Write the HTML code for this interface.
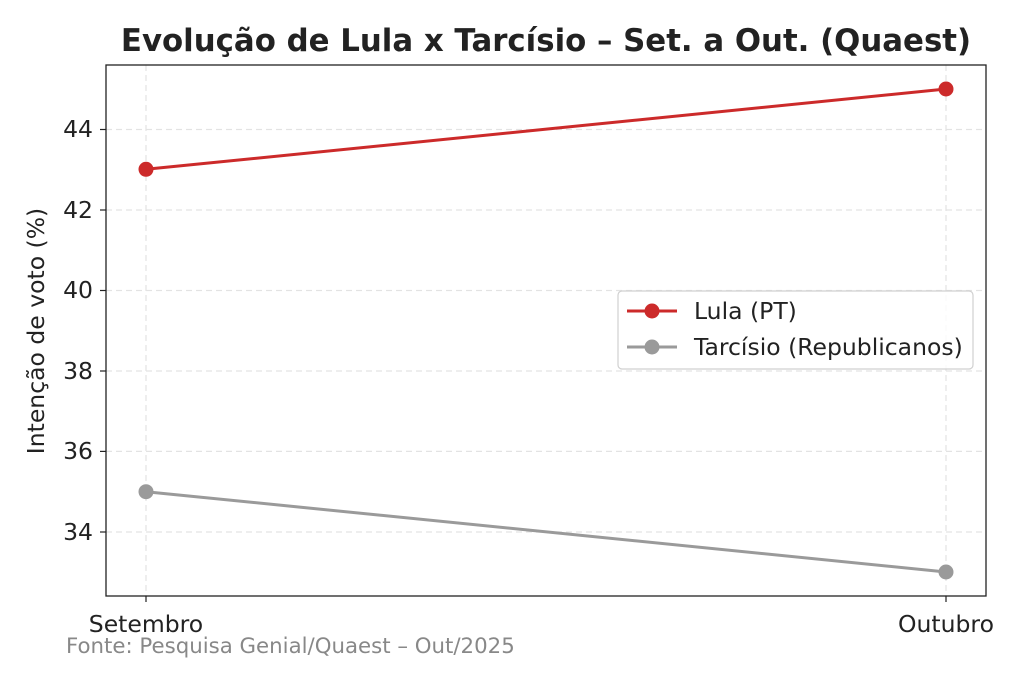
<!DOCTYPE html>
<html><head><meta charset="utf-8"><style>
html,body{margin:0;padding:0;background:#fff;}
svg{display:block;font-family:"DejaVu Sans","Liberation Sans",sans-serif;}
</style></head><body>
<svg width="1024" height="683" viewBox="0 0 1024 683" xmlns="http://www.w3.org/2000/svg">
<rect width="1024" height="683" fill="#fff"/>
<text x="546" y="51" text-anchor="middle" font-size="30.8" font-weight="bold" fill="#222">Evolução de Lula x Tarcísio – Set. a Out. (Quaest)</text>
<g stroke="#e3e3e3" stroke-width="1.2" stroke-dasharray="6,4">
<line x1="146" y1="65" x2="146" y2="596"/>
<line x1="946" y1="65" x2="946" y2="596"/>
<line x1="106" y1="532" x2="986" y2="532"/>
<line x1="106" y1="451.4" x2="986" y2="451.4"/>
<line x1="106" y1="371" x2="986" y2="371"/>
<line x1="106" y1="290.5" x2="986" y2="290.5"/>
<line x1="106" y1="210" x2="986" y2="210"/>
<line x1="106" y1="129.5" x2="986" y2="129.5"/>
</g>
<rect x="106" y="65" width="880" height="531" fill="none" stroke="#222" stroke-width="1.3"/>
<g stroke="#222" stroke-width="1.2">
<line x1="100" y1="532" x2="106" y2="532"/><line x1="100" y1="451.4" x2="106" y2="451.4"/>
<line x1="100" y1="371" x2="106" y2="371"/><line x1="100" y1="290.5" x2="106" y2="290.5"/>
<line x1="100" y1="210" x2="106" y2="210"/><line x1="100" y1="129.5" x2="106" y2="129.5"/>
<line x1="146" y1="596" x2="146" y2="602"/><line x1="946" y1="596" x2="946" y2="602"/>
</g>
<g font-size="23.5" fill="#222" text-anchor="end">
<text x="93" y="540">34</text><text x="93" y="459">36</text><text x="93" y="379">38</text>
<text x="93" y="298">40</text><text x="93" y="218">42</text><text x="93" y="137">44</text>
</g>
<g font-size="23.5" fill="#222" text-anchor="middle">
<text x="146" y="632">Setembro</text><text x="946" y="632">Outubro</text>
</g>
<text transform="translate(44,331) rotate(-90)" text-anchor="middle" font-size="23.5" fill="#222">Intenção de voto (%)</text>
<text x="66" y="653" font-size="21.3" fill="#888">Fonte: Pesquisa Genial/Quaest – Out/2025</text>
<line x1="146" y1="169.3" x2="946" y2="89" stroke="#cc2a2a" stroke-width="3"/>
<circle cx="146" cy="169.3" r="7.5" fill="#cc2a2a"/><circle cx="946" cy="89" r="7.5" fill="#cc2a2a"/>
<line x1="146" y1="491.7" x2="946" y2="572" stroke="#9a9a9a" stroke-width="3"/>
<circle cx="146" cy="491.7" r="7.5" fill="#9a9a9a"/><circle cx="946" cy="572" r="7.5" fill="#9a9a9a"/>
<rect x="618" y="291" width="355" height="78" rx="4" fill="#fff" fill-opacity="0.8" stroke="#d0d0d0" stroke-width="1.2"/>
<line x1="627" y1="311" x2="677" y2="311" stroke="#cc2a2a" stroke-width="3"/>
<circle cx="652" cy="311" r="7.5" fill="#cc2a2a"/>
<text x="694" y="319" font-size="23.5" fill="#222">Lula (PT)</text>
<line x1="627" y1="347" x2="677" y2="347" stroke="#9a9a9a" stroke-width="3"/>
<circle cx="652" cy="347" r="7.5" fill="#9a9a9a"/>
<text x="694" y="355" font-size="23.5" fill="#222">Tarcísio (Republicanos)</text>
</svg>
</body></html>
